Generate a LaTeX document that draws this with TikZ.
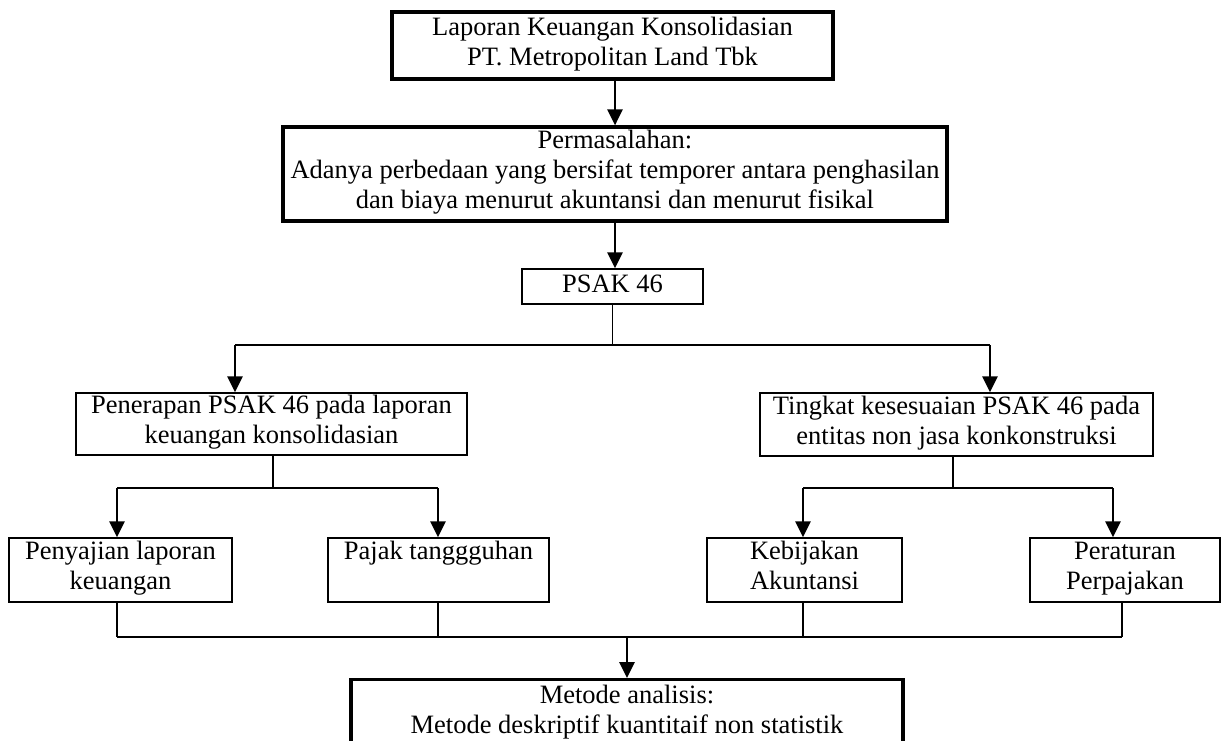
\documentclass[tikz,border=0pt]{standalone}
\usepackage{fontspec}
\setmainfont{Liberation Serif}
\usetikzlibrary{arrows.meta}
\tikzstyle{bigbox}=[draw,line width=3.2pt,inner sep=0pt,align=center,font=\fontsize{26.5}{30}\selectfont,execute at begin node=\strut,execute at end node=\strut]
\tikzstyle{smallbox}=[draw,line width=1.5pt,inner sep=0pt,align=center,font=\fontsize{26.5}{30}\selectfont,execute at begin node=\strut,execute at end node=\strut]
\tikzstyle{arrowline}=[line width=2.8pt,-{Triangle[length=16pt,width=15pt]}]
\tikzstyle{joinline}=[line width=1.1pt]

\begin{document}
\begin{tikzpicture}[x=1pt,y=-1pt]
\clip (0,0) rectangle (1224,740);
\node[bigbox,minimum width=441pt,minimum height=67pt] (lap) at (612.5,45.5) {Laporan Keuangan Konsolidasian\\PT. Metropolitan Land Tbk};
\node[bigbox,minimum width=664pt,minimum height=94pt] (masalah) at (615,174) {Permasalahan:\\Adanya perbedaan yang bersifat temporer antara penghasilan\\dan biaya menurut akuntansi dan menurut fisikal};
\node[smallbox,minimum width=181pt,minimum height=35pt] (psak) at (612.5,286.5) {PSAK 46};
\node[smallbox,minimum width=391pt,minimum height=62pt] (penerapan) at (271.5,424) {Penerapan PSAK 46 pada laporan\\keuangan konsolidasian};
\node[smallbox,minimum width=393pt,minimum height=63pt] (tingkat) at (956.5,424.5) {Tingkat kesesuaian PSAK 46 pada\\entitas non jasa konkonstruksi};
\node[smallbox,minimum width=223pt,minimum height=64pt] (penyajian) at (120.5,570) {Penyajian laporan\\keuangan};
\node[smallbox,minimum width=221pt,minimum height=64pt] (pajak) at (438.5,570) {Pajak tanggguhan\\};
\node[smallbox,minimum width=195pt,minimum height=64pt] (kebijakan) at (804.5,570) {Kebijakan\\Akuntansi};
\node[smallbox,minimum width=190pt,minimum height=64pt] (peraturan) at (1125,570) {Peraturan\\Perpajakan};
\node[bigbox,minimum width=552pt,inner ysep=6pt,anchor=north] (metode) at (627,678) {Metode analisis:\\Metode deskriptif kuantitaif non statistik};
% junctions
\coordinate (j1) at (612.5,345);
\coordinate (j1l) at (235,345);
\coordinate (j1r) at (990,345);
\coordinate (j2) at (273,488);
\coordinate (j2l) at (117,488);
\coordinate (j2r) at (438,488);
\coordinate (j3) at (953,488);
\coordinate (j3l) at (803,488);
\coordinate (j3r) at (1113,488);
\coordinate (j4) at (627,637);
\coordinate (j4l) at (117,637);
\coordinate (j4r) at (1122,637);
\draw[arrowline] (masalah.north |- lap.south) -- (masalah.north);
\draw[arrowline] (masalah.south) -- (masalah.south |- psak.north);
\draw[joinline] (psak.south) -- (j1);
\draw[joinline] (j1l) -- (j1r);
\draw[arrowline] (j1l) -- (j1l |- penerapan.north);
\draw[arrowline] (j1r) -- (j1r |- tingkat.north);
\draw[joinline] (j2 |- penerapan.south) -- (j2);
\draw[joinline] (j2l) -- (j2r);
\draw[arrowline] (j2l) -- (j2l |- penyajian.north);
\draw[arrowline] (j2r) -- (j2r |- pajak.north);
\draw[joinline] (j3 |- tingkat.south) -- (j3);
\draw[joinline] (j3l) -- (j3r);
\draw[arrowline] (j3l) -- (j3l |- kebijakan.north);
\draw[arrowline] (j3r) -- (j3r |- peraturan.north);
\draw[joinline] (j4l |- penyajian.south) -- (j4l);
\draw[joinline] (j2r |- pajak.south) -- (j2r |- j4);
\draw[joinline] (j3l |- kebijakan.south) -- (j3l |- j4);
\draw[joinline] (j4r |- peraturan.south) -- (j4r);
\draw[joinline] (j4l) -- (j4r);
\draw[arrowline] (j4) -- (metode.north);
\end{tikzpicture}
\end{document}
